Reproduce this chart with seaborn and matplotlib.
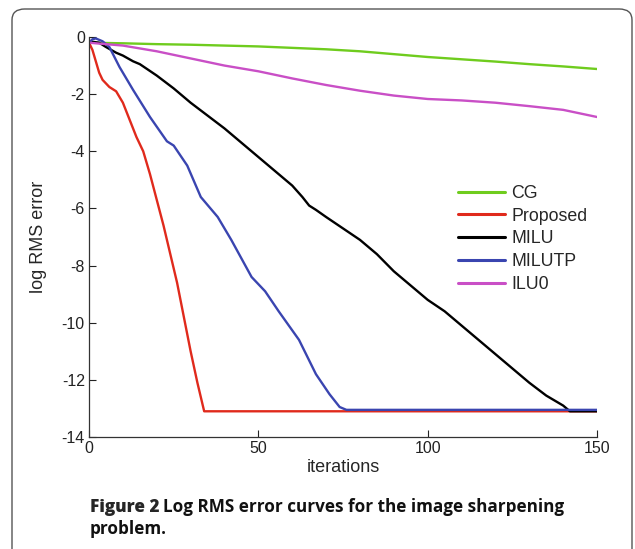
import matplotlib

matplotlib.use('Agg')
import matplotlib.pyplot as plt
from matplotlib.patches import FancyBboxPatch
import pandas as pd
import seaborn as sns

# values
cg_x = [0, 10, 20, 30, 40, 50, 60, 70, 80, 90, 100, 110, 120, 130, 140, 150]
cg_y = [-0.2, -0.22, -0.25, -0.27, -0.3, -0.33, -0.38, -0.43, -0.5, -0.6, -0.7, -0.78, -0.86, -0.95, -1.03, -1.12]

proposed_x = [0, 1, 2, 3, 4, 6, 8, 10, 12, 14, 16, 18, 20, 22, 24, 26, 28, 30, 32, 34, 150]
proposed_y = [-0.2, -0.45, -0.85, -1.25, -1.5, -1.75, -1.9, -2.3, -2.9, -3.5, -4.0, -4.8, -5.7, -6.6,
              -7.6, -8.6, -9.8, -11.0, -12.1, -13.1, -13.1]

milu_x = [0, 3, 5, 8, 10, 13, 15, 20, 25, 30, 35, 40, 45, 50, 55, 60, 63, 65, 67, 70, 75, 80, 85,
          90, 95, 100, 105, 110, 115, 120, 125, 130, 135, 140, 142, 150]
milu_y = [-0.15, -0.2, -0.35, -0.55, -0.65, -0.85, -0.95, -1.35, -1.8, -2.3, -2.75, -3.2, -3.7, -4.2,
          -4.7, -5.2, -5.6, -5.9, -6.05, -6.3, -6.7, -7.1, -7.6, -8.2, -8.7, -9.2, -9.6, -10.1, -10.6,
          -11.1, -11.6, -12.1, -12.55, -12.9, -13.1, -13.1]

milutp_x = [0, 1, 2, 4, 6, 9, 13, 18, 23, 25, 29, 33, 38, 42, 48, 52, 56, 62, 67, 71, 74, 76, 150]
milutp_y = [-0.2, -0.08, -0.05, -0.15, -0.35, -1.05, -1.85, -2.8, -3.65, -3.8, -4.5, -5.6, -6.3, -7.1,
            -8.4, -8.9, -9.6, -10.6, -11.8, -12.5, -12.95, -13.05, -13.05]

ilu0_x = [0, 10, 20, 30, 40, 50, 60, 70, 80, 90, 100, 110, 120, 130, 140, 150]
ilu0_y = [-0.2, -0.3, -0.5, -0.75, -1.0, -1.2, -1.45, -1.68, -1.88, -2.05, -2.17, -2.22, -2.3, -2.42,
          -2.55, -2.8]

names = ['CG', 'Proposed', 'MILU', 'MILUTP', 'ILU0']
colors = ['#6fcc1e', '#e02a1c', '#000000', '#3a45b0', '#c94fc6']

frames = []
for name, xs, ys in zip(names,
                        [cg_x, proposed_x, milu_x, milutp_x, ilu0_x],
                        [cg_y, proposed_y, milu_y, milutp_y, ilu0_y]):
    frames.append(pd.DataFrame({'iterations': xs, 'err': ys, 'method': name}))
df = pd.concat(frames, ignore_index=True)

sns.set_style('ticks')
plt.rcParams['font.family'] = ['Liberation Sans', 'DejaVu Sans']
plt.rcParams['axes.unicode_minus'] = False

fig = plt.figure(figsize=(6.35, 5.49), dpi=100)
ax = fig.add_axes([0.1402, 0.204, 0.800, 0.7286])

sns.lineplot(data=df, x='iterations', y='err', hue='method', hue_order=names,
             palette=colors, linewidth=1.7, ax=ax, sort=False, estimator=None)

ax.set_xlim(0, 150)
ax.set_ylim(-14, 0)
ax.set_xticks([0, 50, 100, 150])
ax.set_yticks(range(-14, 1, 2))
ax.tick_params(direction='in', length=5, width=0.8, labelsize=11.5, colors='#222222', pad=3)
for s in ['top', 'right']:
    ax.spines[s].set_visible(False)
for s in ['left', 'bottom']:
    ax.spines[s].set_color('#333333')
    ax.spines[s].set_linewidth(0.9)
ax.set_xlabel('iterations', fontsize=13, labelpad=2)
ax.set_ylabel('log RMS error', fontsize=13)
ax.yaxis.set_label_coords(-0.083, 0.5)

leg = ax.legend(loc='upper left', bbox_to_anchor=(0.695, 0.67), frameon=False, fontsize=12.8,
                handlelength=2.65, handletextpad=0.35, labelspacing=0.32)
for line in leg.get_lines():
    line.set_linewidth(2.2)

# rounded frame around the figure, bottom runs off the picture
frame = FancyBboxPatch((12 / 635, -0.05), 620 / 635, 1 - 9 / 549 + 0.05,
                       boxstyle='round,pad=0,rounding_size=0.02', transform=fig.transFigure,
                       fill=False, edgecolor='#555555', linewidth=1.0)
fig.patches.append(frame)

cap_font = ['Open Sans', 'DejaVu Sans']
t1 = fig.text(90 / 635, 1 - 512 / 549, 'Figure 2', fontsize=12.3, fontweight='heavy',
              family=cap_font, va='baseline')
fig.canvas.draw()
bb = t1.get_window_extent()
fig.text((bb.x1 + 4) / 635, 1 - 512 / 549, 'Log RMS error curves for the image sharpening',
         fontsize=12.3, fontweight='bold', family=cap_font, va='baseline', color='#111111')
fig.text(90 / 635, 1 - 534 / 549, 'problem.', fontsize=12.3, fontweight='bold',
         family=cap_font, va='baseline', color='#111111')

plt.savefig('out.png', dpi=100)
plt.close()
